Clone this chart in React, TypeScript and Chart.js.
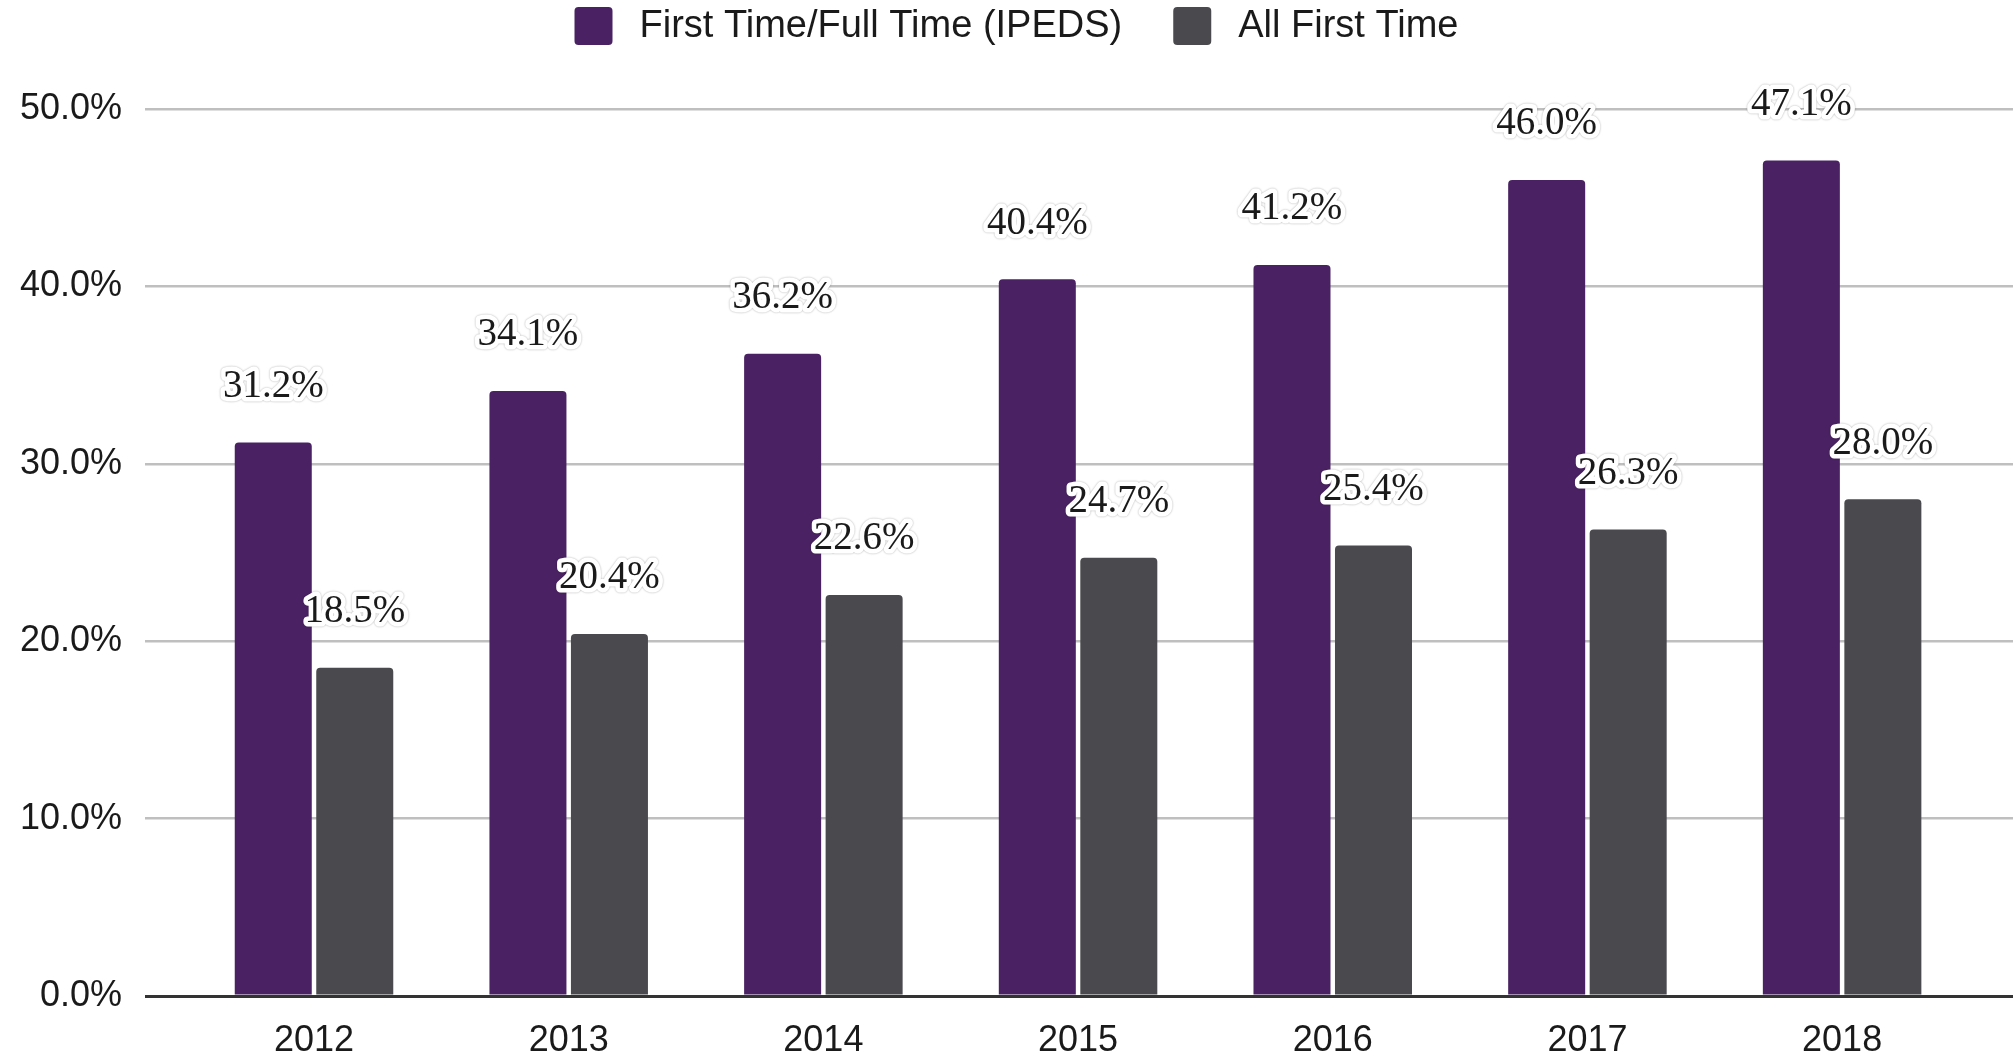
import { useEffect, useRef } from 'react';
import { Chart, registerables } from 'chart.js';

Chart.register(...registerables);

const categories = ['2012', '2013', '2014', '2015', '2016', '2017', '2018'];
const firstTimeFullTime = [31.2, 34.1, 36.2, 40.4, 41.2, 46.0, 47.1];
const allFirstTime = [18.5, 20.4, 22.6, 24.7, 25.4, 26.3, 28.0];
const seriesNames = ['First Time/Full Time (IPEDS)', 'All First Time'];
const seriesColors = ['#4a2263', '#4a494e'];
const yTickValues = [0, 10, 20, 30, 40, 50];

const SANS = '"Liberation Sans", Arial, sans-serif';
const SERIF = '"Liberation Serif", "DejaVu Serif", serif';

const valueLabels = {
  id: 'valueLabels',
  afterDatasetsDraw(chart: any) {
    const { ctx } = chart;
    ctx.save();
    ctx.font = `39px ${SERIF}`;
    ctx.textAlign = 'center';
    ctx.textBaseline = 'middle';
    ctx.lineJoin = 'round';
    chart.data.datasets.forEach((ds: any, di: number) => {
      const meta = chart.getDatasetMeta(di);
      meta.data.forEach((el: any, i: number) => {
        const v = ds.data[i].y as number;
        const text = v.toFixed(1) + '%';
        const x = el.x;
        const y = el.y - 56;
        ctx.save();
        ctx.shadowColor = 'rgba(0,0,0,0.35)';
        ctx.shadowBlur = 2;
        ctx.strokeStyle = '#ffffff';
        ctx.lineWidth = 9;
        ctx.strokeText(text, x, y);
        ctx.restore();
        ctx.strokeStyle = '#ffffff';
        ctx.lineWidth = 7;
        ctx.strokeText(text, x, y);
        ctx.fillStyle = '#1a1a1a';
        ctx.fillText(text, x, y);
      });
    });
    ctx.restore();
  },
};

const topLegend = {
  id: 'topLegend',
  afterDraw(chart: any) {
    const { ctx } = chart;
    ctx.save();
    ctx.font = `38px ${SANS}`;
    const box = 38;
    const gapText = 27;
    const gapItem = 51;
    const items = chart.data.datasets.map((ds: any) => ({
      text: ds.label as string,
      color: ds.backgroundColor as string,
      w: ctx.measureText(ds.label).width as number,
    }));
    const total =
      items.reduce((s: number, it: any) => s + box + gapText + it.w, 0) + gapItem * (items.length - 1);
    let x = chart.width / 2 + 10 - total / 2;
    const cy = 26;
    items.forEach((it: any) => {
      ctx.fillStyle = it.color;
      ctx.beginPath();
      ctx.roundRect(x, cy - box / 2, box, box, 4);
      ctx.fill();
      x += box + gapText;
      ctx.fillStyle = '#1a1a1a';
      ctx.textBaseline = 'middle';
      ctx.textAlign = 'left';
      ctx.fillText(it.text, x, cy + 1);
      x += it.w + gapItem;
    });
    ctx.restore();
  },
};

export default function App() {
  const canvasRef = useRef<HTMLCanvasElement | null>(null);

  useEffect(() => {
    const canvas = canvasRef.current;
    if (!canvas) return;
    const chart = new Chart(canvas, {
      type: 'bar',
      data: {
        datasets: [
          {
            label: seriesNames[0],
            data: firstTimeFullTime.map((v, i) => ({ x: i, y: v })),
            backgroundColor: seriesColors[0],
            borderRadius: { topLeft: 4, topRight: 4, bottomLeft: 0, bottomRight: 0 },
            borderSkipped: 'start',
            categoryPercentage: 0.64,
            barPercentage: 0.945,
          },
          {
            label: seriesNames[1],
            data: allFirstTime.map((v, i) => ({ x: i, y: v })),
            backgroundColor: seriesColors[1],
            borderRadius: { topLeft: 4, topRight: 4, bottomLeft: 0, bottomRight: 0 },
            borderSkipped: 'start',
            categoryPercentage: 0.64,
            barPercentage: 0.945,
          },
        ],
      } as any,
      options: {
        responsive: false,
        animation: false,
        layout: { padding: { top: 109, right: 0, bottom: 0, left: 0 } },
        plugins: {
          legend: { display: false },
          tooltip: { enabled: false },
        },
        scales: {
          x: {
            type: 'linear',
            min: -0.6636,
            max: 6.671,
            offset: false,
            bounds: 'data',
            grid: { display: false, drawTicks: false, offset: false },
            border: { display: false },
            afterBuildTicks: (s: any) => {
              s.ticks = categories.map((_, i) => ({ value: i }));
            },
            afterFit: (s: any) => {
              s.height = 61;
            },
            ticks: {
              autoSkip: false,
              maxRotation: 0,
              padding: 23,
              color: '#1a1a1a',
              font: { family: SANS, size: 36 },
              callback: (v: any) => categories[v as number] ?? '',
            },
          },
          y: {
            min: 0,
            max: 50,
            afterBuildTicks: (s: any) => {
              s.ticks = yTickValues.map((v) => ({ value: v }));
            },
            afterFit: (s: any) => {
              s.width = 145;
            },
            border: { display: false },
            grid: {
              drawTicks: false,
              color: (c: any) => (c.tick && c.tick.value === 0 ? '#333333' : '#bfbfbf'),
              lineWidth: (c: any) => (c.tick && c.tick.value === 0 ? 3 : 2.5),
            },
            ticks: {
              padding: 23,
              color: '#1a1a1a',
              font: { family: SANS, size: 36 },
              callback: (v: any) => Number(v).toFixed(1) + '%',
            },
          },
        },
      } as any,
      plugins: [valueLabels, topLegend],
    });
    return () => chart.destroy();
  }, []);

  return (
    <div style={{ position: 'fixed', left: 0, top: 0, width: 2013, height: 1057, background: '#fff' }}>
      <canvas ref={canvasRef} width={2013} height={1057} style={{ display: 'block' }} />
    </div>
  );
}
